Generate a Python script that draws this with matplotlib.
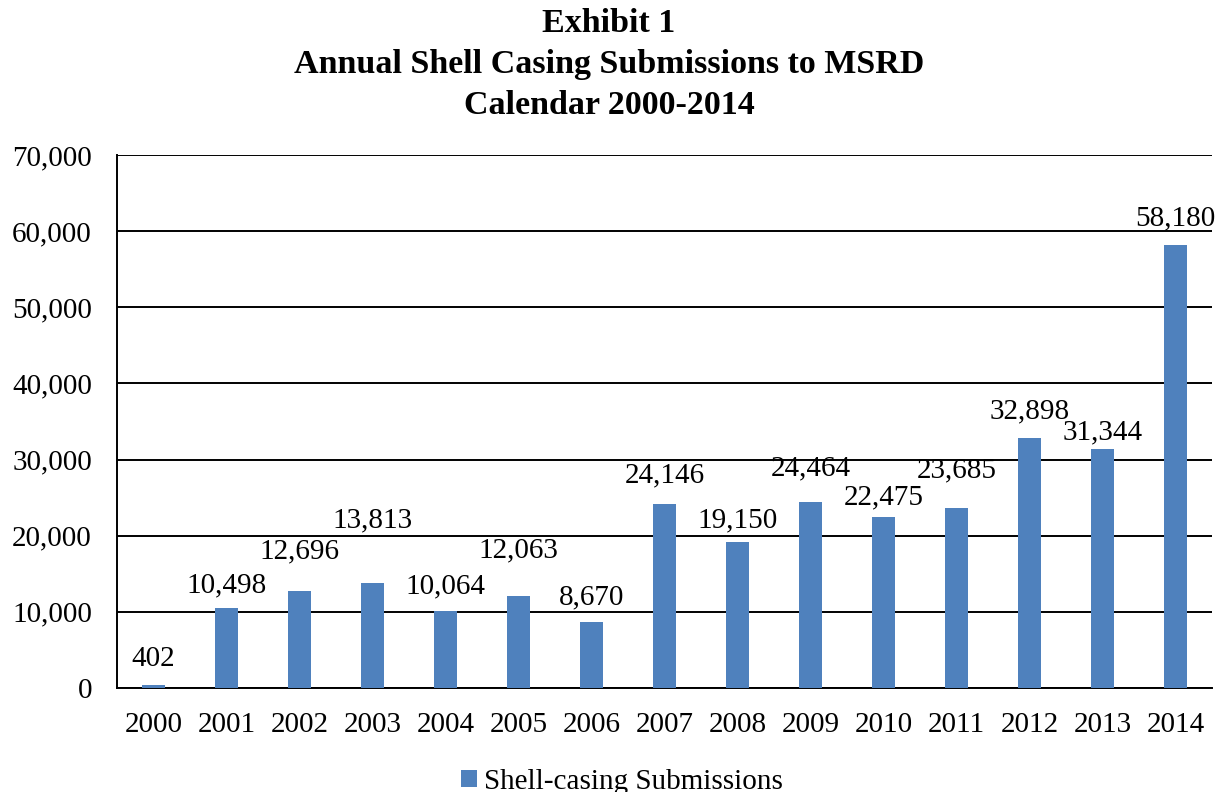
import matplotlib
matplotlib.use("Agg")
import matplotlib.pyplot as plt
from matplotlib.ticker import FuncFormatter
from matplotlib.patches import Patch

years = ["2000", "2001", "2002", "2003", "2004", "2005", "2006", "2007",
         "2008", "2009", "2010", "2011", "2012", "2013", "2014"]
submissions = [402, 10498, 12696, 13813, 10064, 12063, 8670, 24146,
               19150, 24464, 22475, 23685, 32898, 31344, 58180]
# vertical offset (points) of each data label above its bar (as placed in reference)
label_offsets = [19, 16, 29, 45, 18, 33, 18, 21, 16, 24, 14, 27, 19, 12, 19]

plt.rcParams['font.family'] = ['Liberation Serif', 'DejaVu Serif']

fig = plt.figure(figsize=(12.18, 7.92), dpi=100)
ax = fig.add_axes([117/1218, 1-688/792, (1212-117)/1218, (688-155)/792])

color = "#4F81BD"
x = list(range(len(years)))
bars = ax.bar(x, submissions, width=0.31, color=color, zorder=3)

ax.set_xlim(-0.5, len(years) - 0.5)
ax.set_ylim(0, 70000)
ax.set_yticks(range(0, 70001, 10000))
ax.yaxis.set_major_formatter(FuncFormatter(lambda v, p: f"{int(v):,}"))
ax.set_xticks(x)
ax.set_xticklabels(years)
ax.tick_params(axis='both', length=0, labelsize=21)
ax.tick_params(axis='y', pad=18)
ax.tick_params(axis='x', pad=17)
ax.grid(axis='y', color='black', linewidth=1.4, zorder=1)
for s in ['top', 'right']:
    ax.spines[s].set_visible(False)
ax.spines['left'].set_linewidth(1.4)
ax.spines['bottom'].set_linewidth(1.4)

for xi, v, off in zip(x, submissions, label_offsets):
    ax.annotate(f"{v:,}", (xi, v), xytext=(0, off), textcoords='offset points',
                ha='center', va='center', fontsize=21, zorder=4)

fig.text(0.5, 1-23/792, "Exhibit 1", ha='center', va='center', fontsize=24.5, fontweight='bold')
fig.text(0.5, 1-65/792, "Annual Shell Casing Submissions to MSRD", ha='center', va='center',
         fontsize=24.5, fontweight='bold')
fig.text(0.5, 1-106/792, "Calendar 2000-2014", ha='center', va='center', fontsize=24.5, fontweight='bold')

handle = Patch(facecolor=color, label="Shell-casing Submissions")
fig.legend(handles=[handle], loc='center', bbox_to_anchor=(622/1218, 1-782/792), frameon=False,
           fontsize=21, handlelength=0.55, handleheight=0.55, handletextpad=0.25)

fig.savefig("out.png", dpi=100)
